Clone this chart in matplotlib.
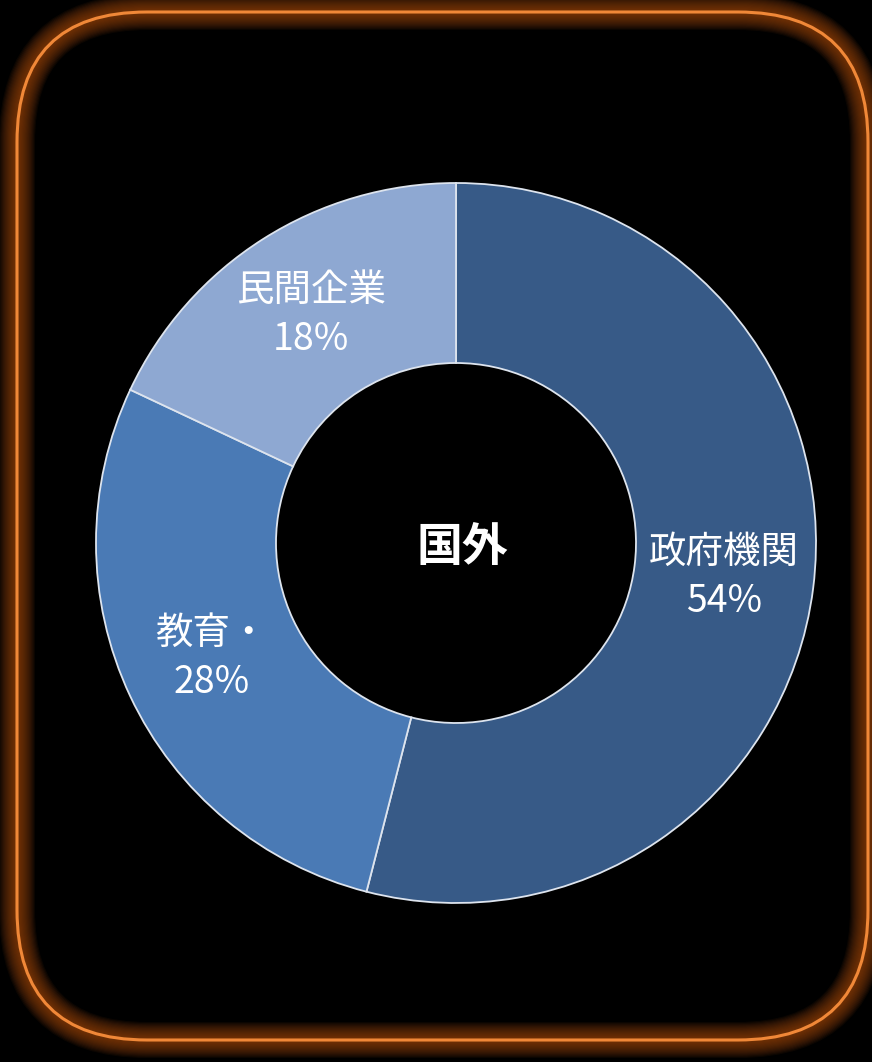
import matplotlib
matplotlib.use("Agg")
import matplotlib.pyplot as plt
from matplotlib.patches import FancyBboxPatch

plt.rcParams['font.family'] = ['Noto Sans CJK JP', 'DejaVu Sans']

# Datos
categorias = ["政府機関", "教育・", "民間企業"]
valores = [54, 28, 18]
colores = ["#375a87", "#4a7ab5", "#8ea8d2"]
titulo_centro = "国外"

W, H = 872, 1062
fig = plt.figure(figsize=(W / 100, H / 100), dpi=100, facecolor="black")
ax = fig.add_axes([0, 0, 1, 1])
ax.set_facecolor("black")

# Marco redondeado con brillo naranja (capas suaves)
x0, y0, x1, y1 = 17, 22, 868, 1050
for i in range(16):
    lw = 2 + i * 1.6
    ax.add_patch(FancyBboxPatch((x0, y0), x1 - x0, y1 - y0,
                                boxstyle="round,pad=0,rounding_size=130",
                                fill=False, edgecolor="#a84c12", linewidth=lw,
                                alpha=0.07, zorder=1))
ax.add_patch(FancyBboxPatch((x0, y0), x1 - x0, y1 - y0,
                            boxstyle="round,pad=0,rounding_size=130",
                            fill=False, edgecolor="#f08838", linewidth=2.2,
                            zorder=2))

# Donut
etiquetas = [f"{c}\n{v}%" for c, v in zip(categorias, valores)]
R = 360
wedges, textos = ax.pie(valores, labels=etiquetas, colors=colores,
                        startangle=90, counterclock=False,
                        center=(456, H - 543), radius=R,
                        labeldistance=0.75, frame=True,
                        wedgeprops=dict(width=R * 0.5, edgecolor="#dde4ee",
                                        linewidth=1.3),
                        textprops=dict(color="white", fontsize=27,
                                       linespacing=1.35))
for t in textos:
    t.set_horizontalalignment("center")
    t.set_verticalalignment("center")
ax.set_xlim(0, W)
ax.set_ylim(0, H)
ax.axis("off")

ax.text(462, H - 548, titulo_centro, color="white", fontsize=33,
        fontweight="bold", ha="center", va="center")

fig.savefig("out.png", dpi=100, facecolor="black")
